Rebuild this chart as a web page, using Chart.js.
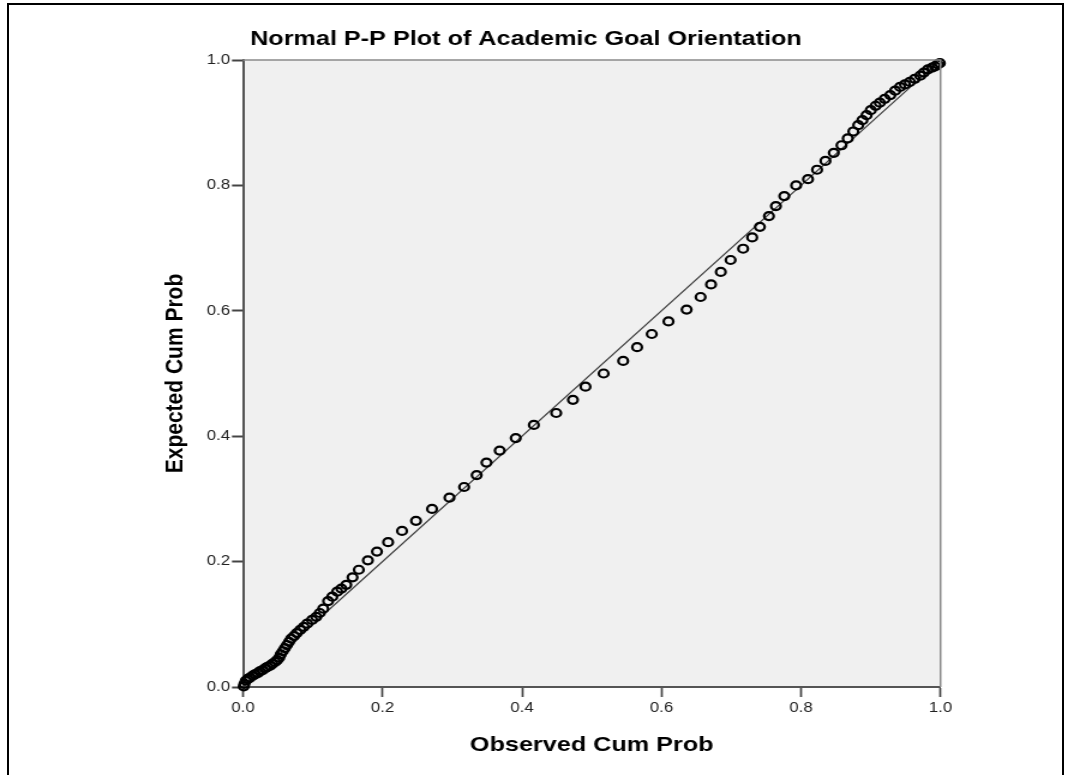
<!DOCTYPE html>
<html>
<head>
<meta charset="utf-8">
<title>Normal P-P Plot of Academic Goal Orientation</title>
<script src="https://cdn.jsdelivr.net/npm/chart.js@4.4.1/dist/chart.umd.min.js"></script>
<style>
  html, body { margin: 0; padding: 0; background: #fff; width: 1073px; height: 775px; overflow: hidden; }
  #stage { position: absolute; left: 0; top: 0; width: 894px; height: 775px; transform: scaleX(1.2); transform-origin: 0 0; }
  #stage canvas { display: block; }
  #frame { position: absolute; left: 7px; top: 3px; width: 1057px; height: 800px; box-sizing: border-box;
           border-left: 2px solid #000; border-top: 2px solid #000; border-right: 2px solid #000; pointer-events: none; }
</style>
</head>
<body>
<div id="stage"><canvas id="pp" width="894" height="775"></canvas></div>
<div id="frame"></div>
<script>
// Observed vs. expected cumulative probabilities
const observedCumProb = [
  0.001, 0.002, 0.004, 0.007, 0.010, 0.014, 0.017, 0.021, 0.024, 0.028,
  0.032, 0.035, 0.039, 0.042, 0.046, 0.049, 0.052, 0.054, 0.057, 0.060,
  0.063, 0.066, 0.069, 0.073, 0.077, 0.082, 0.087, 0.092, 0.099, 0.105,
  0.110, 0.115, 0.122, 0.128, 0.135, 0.141, 0.148, 0.157, 0.166, 0.179,
  0.192, 0.208, 0.228, 0.248, 0.271, 0.296, 0.317, 0.335, 0.349, 0.368,
  0.391, 0.417, 0.449, 0.473, 0.491, 0.517, 0.545, 0.565, 0.586, 0.610,
  0.636, 0.656, 0.671, 0.685, 0.699, 0.717, 0.730, 0.741, 0.754, 0.764,
  0.776, 0.793, 0.810, 0.823, 0.835, 0.847, 0.858, 0.867, 0.875, 0.882,
  0.888, 0.894, 0.900, 0.907, 0.913, 0.920, 0.928, 0.935, 0.942, 0.949,
  0.956, 0.963, 0.971, 0.976, 0.982, 0.988, 0.992, 0.996, 0.999
];
const expectedCumProb = [
  0.001, 0.005, 0.010, 0.013, 0.015, 0.018, 0.020, 0.022, 0.025, 0.027,
  0.030, 0.032, 0.034, 0.037, 0.040, 0.043, 0.047, 0.052, 0.057, 0.062,
  0.067, 0.072, 0.077, 0.081, 0.086, 0.091, 0.096, 0.101, 0.107, 0.112,
  0.118, 0.125, 0.137, 0.144, 0.152, 0.157, 0.163, 0.175, 0.187, 0.202,
  0.216, 0.231, 0.249, 0.265, 0.284, 0.302, 0.319, 0.338, 0.358, 0.377,
  0.397, 0.418, 0.437, 0.458, 0.479, 0.500, 0.520, 0.542, 0.563, 0.583,
  0.602, 0.622, 0.642, 0.662, 0.681, 0.699, 0.717, 0.734, 0.751, 0.767,
  0.783, 0.800, 0.810, 0.825, 0.839, 0.852, 0.864, 0.875, 0.886, 0.896,
  0.904, 0.912, 0.920, 0.927, 0.932, 0.938, 0.944, 0.951, 0.957, 0.961,
  0.965, 0.970, 0.975, 0.980, 0.985, 0.988, 0.990, 0.993, 0.995
];
// Diagonal reference line (expected = observed)
const referenceLine = [0, 1];
// Axis tick values
const tickValues = [0.0, 0.2, 0.4, 0.6, 0.8, 1.0];

const ppPoints = observedCumProb.map((x, i) => ({ x: x, y: expectedCumProb[i] }));
const diagonal = referenceLine.map(v => ({ x: v, y: v }));

Chart.defaults.font.family = "'Liberation Sans', Arial, sans-serif";
Chart.defaults.color = '#222';

// Grey plotting area with a light border on the top and right sides
const plotFrame = {
  id: 'plotFrame',
  beforeDraw(chart) {
    const { ctx, chartArea: a } = chart;
    ctx.save();
    ctx.fillStyle = '#f0f0f0';
    ctx.fillRect(a.left, a.top, a.right - a.left, a.bottom - a.top);
    ctx.restore();
  },
  afterDraw(chart) {
    const { ctx, chartArea: a } = chart;
    ctx.save();
    ctx.strokeStyle = '#8a8a8a';
    ctx.lineWidth = 1.5;
    ctx.beginPath();
    ctx.moveTo(a.left, a.top);
    ctx.lineTo(a.right, a.top);
    ctx.lineTo(a.right, a.bottom);
    ctx.stroke();
    ctx.restore();
  }
};

const setTicks = scale => { scale.ticks = tickValues.map(v => ({ value: v })); };

new Chart(document.getElementById('pp'), {
  type: 'scatter',
  data: {
    datasets: [
      {
        type: 'line',
        data: diagonal,
        borderColor: '#3a3a3a',
        borderWidth: 1.2,
        pointRadius: 0,
        fill: false,
        order: 2
      },
      {
        data: ppPoints,
        pointStyle: 'circle',
        pointRadius: 4,
        pointBorderWidth: 2.2,
        pointBorderColor: '#000',
        pointBackgroundColor: 'rgba(0,0,0,0)',
        clip: false,
        order: 1
      }
    ]
  },
  plugins: [plotFrame],
  options: {
    responsive: false,
    animation: false,
    devicePixelRatio: 1,
    layout: { padding: { left: 92.85, right: 110.25, top: 0, bottom: 0 } },
    plugins: {
      legend: { display: false },
      tooltip: { enabled: false },
      title: {
        display: true,
        text: 'Normal P-P Plot of Academic Goal Orientation',
        color: '#000',
        font: { size: 21, weight: 'bold' },
        padding: { top: 26.4, bottom: 8.4 }
      }
    },
    scales: {
      x: {
        type: 'linear',
        min: 0,
        max: 1,
        afterBuildTicks: setTicks,
        afterFit: s => { s.height = 88; },
        grid: { drawOnChartArea: false, drawTicks: true, tickLength: 10, tickColor: '#444', tickWidth: 1.7 },
        border: { display: true, color: '#555', width: 2 },
        ticks: { padding: 3, color: '#222', font: { size: 14 }, maxRotation: 0,
                 callback: v => Number(v).toFixed(1) },
        title: { display: true, text: 'Observed Cum Prob', color: '#000',
                 font: { size: 21, weight: 'bold' }, padding: { top: 0, bottom: 17.4 } }
      },
      y: {
        type: 'linear',
        min: 0,
        max: 1,
        afterBuildTicks: setTicks,
        afterFit: s => { s.width = 109.65; },
        grid: { drawOnChartArea: false, drawTicks: true, tickLength: 9.2, tickColor: '#444', tickWidth: 2 },
        border: { display: true, color: '#555', width: 2 },
        ticks: { padding: 1.5, color: '#222', font: { size: 14 },
                 callback: v => Number(v).toFixed(1) },
        title: { display: true, text: 'Expected Cum Prob', color: '#000',
                 font: { size: 21, weight: 'bold' }, padding: { top: 40.35, bottom: 0 } }
      }
    }
  }
});
</script>
</body>
</html>
